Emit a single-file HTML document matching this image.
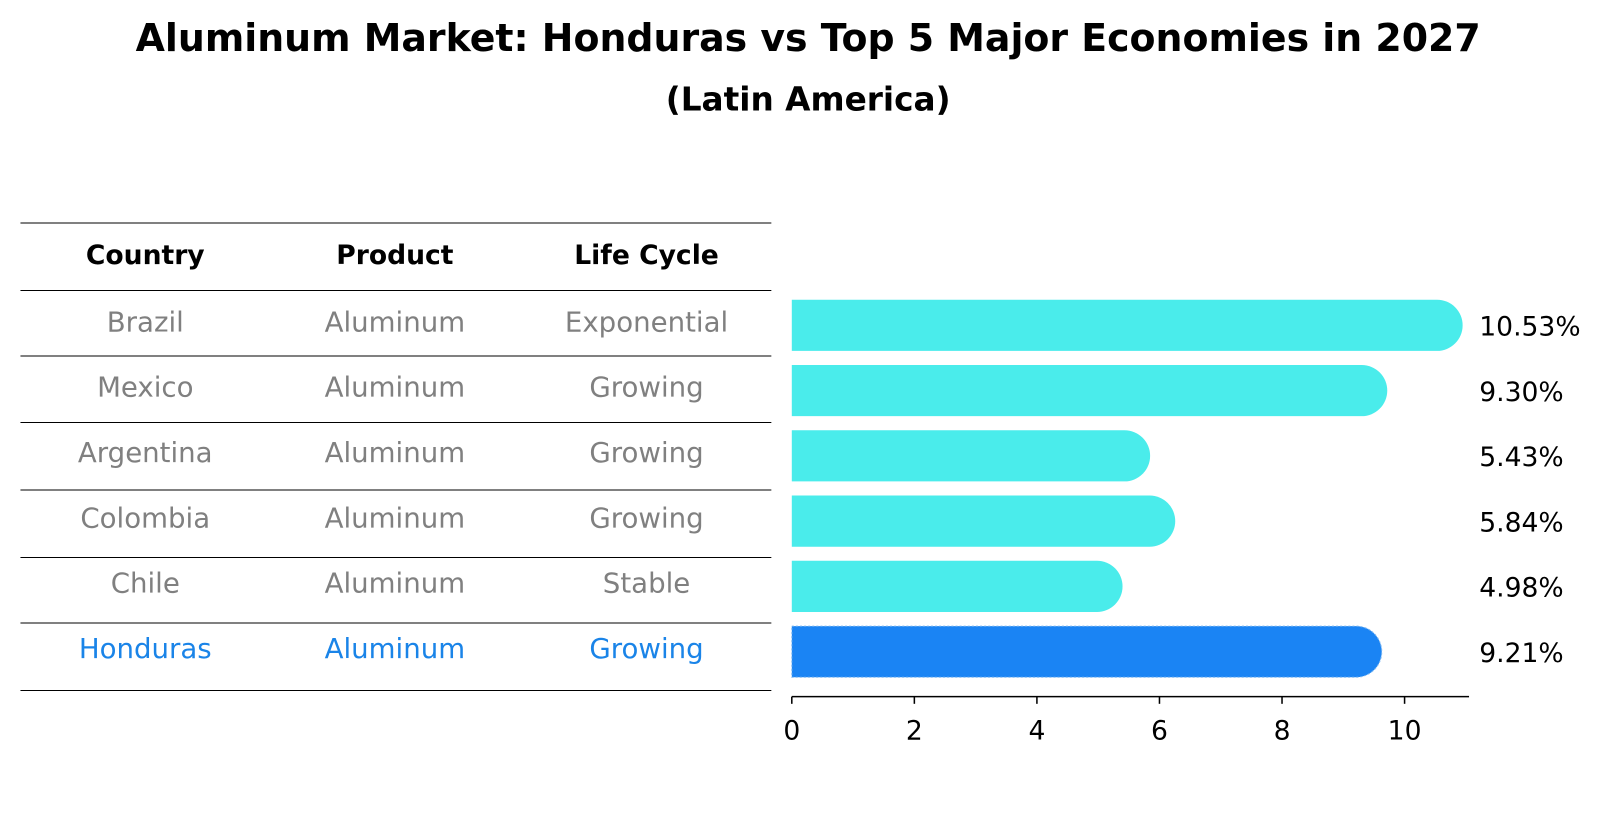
<!DOCTYPE html>
<html><head><meta charset="utf-8">
<style>
body{margin:0;background:#fff;font-family:"Liberation Sans","DejaVu Sans",sans-serif;}
svg{display:block}
</style></head>
<body>
<svg id="chart" width="1604" height="823" viewBox="0 0 1604 823" xmlns="http://www.w3.org/2000/svg">
<g id="root" transform="scale(1.023)">
<text x="790" y="50" text-anchor="middle" font-size="37" font-weight="bold" font-family="DejaVu Sans, sans-serif">Aluminum Market: Honduras vs Top 5 Major Economies in 2027</text>
<text x="790" y="108" text-anchor="middle" font-size="32" font-weight="bold" font-family="DejaVu Sans, sans-serif">(Latin America)</text>
<g id="table"></g>
<g id="bars"></g>
<g id="axis"></g>
</g>
</svg>
<script>
const countries=["Brazil","Mexico","Argentina","Colombia","Chile","Honduras"];
const products=["Aluminum","Aluminum","Aluminum","Aluminum","Aluminum","Aluminum"];
const lifeCycles=["Exponential","Growing","Growing","Growing","Stable","Growing"];
const values=[10.53,9.30,5.43,5.84,4.98,9.21];
const valueLabels=["10.53%","9.30%","5.43%","5.84%","4.98%","9.21%"];
const ticks=[0,2,4,6,8,10];

const NS="http://www.w3.org/2000/svg";
function mk(tag,attrs,parent,text){const e=document.createElementNS(NS,tag);for(const k in attrs)e.setAttribute(k,attrs[k]);if(text!==undefined)e.textContent=text;parent.appendChild(e);return e;}
const x=v=>774+v*59.9;
const rowY=i=>318+i*63.8;
const font="DejaVu Sans, sans-serif";

// table
const tb=document.getElementById('table');
const lines=[218,284,348,413,479,545,609,675];
lines.forEach((ly,i)=>{
 const l=mk('line',{x1:20,x2:754,y1:ly,y2:ly,stroke:'#000','stroke-width':1},tb);
 
 
});
const colX=[142,386,632];
["Country","Product","Life Cycle"].forEach((h,j)=>{
 const t=mk('text',{x:colX[j],y:258,'text-anchor':'middle','font-size':26,'font-weight':'bold','font-family':font},tb,h);
 
 
});
countries.forEach((c,i)=>{
 const col=i===5?'#1a84e8':'#808080';
 [c,products[i],lifeCycles[i]].forEach((v,j)=>{
  const t=mk('text',{x:colX[j],y:rowY(i)+6,'text-anchor':'middle','font-size':27,fill:col,'font-family':font},tb,v);
  
  
 });
});

// bars
const bg=document.getElementById('bars');
const h=50,r=25;
values.forEach((v,i)=>{
 const cy=rowY(i),top=cy-h/2,x0=x(0),xe=x(v);
 const d=`M${x0},${top} L${xe},${top} A${r},${r} 0 0 1 ${xe},${top+h} L${x0},${top+h} Z`;
 const col=i===5?'#1a84f4':'#4aeceb';
 const p=mk('path',{d:d,fill:col},bg);
 if(i===5){p.setAttribute('stroke','#7fb8f0');p.setAttribute('stroke-dasharray','2,2');p.setAttribute('stroke-width','1');}
 
 
 const t=mk('text',{x:1446,y:cy+10,'font-size':26,'font-family':font},bg,valueLabels[i]);
 
 
});

// axis
const ax=document.getElementById('axis');
mk('line',{x1:774,x2:1436,y1:681,y2:681,stroke:'#000','stroke-width':1.5},ax);
ticks.forEach(t=>{
 const l=mk('line',{x1:x(t),x2:x(t),y1:681,y2:688,stroke:'#000','stroke-width':1.5},ax);
 
 
 const tx=mk('text',{x:x(t),y:723,'text-anchor':'middle','font-size':26,'font-family':font},ax,String(t));
 
 
});
</script>
</body></html>
